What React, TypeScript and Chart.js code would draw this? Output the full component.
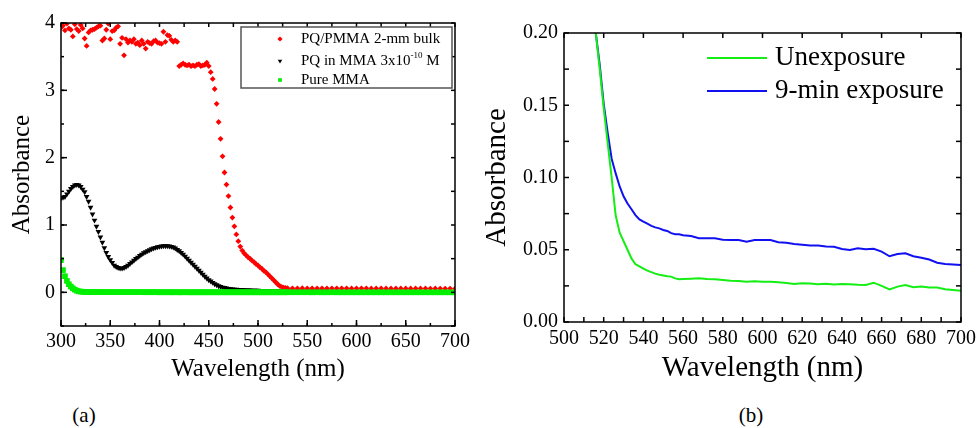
import React, { useEffect, useRef } from 'react';
import { Chart, registerables } from 'chart.js';
import { drawPoint } from 'chart.js/helpers';

Chart.register(...registerables);

const FONT = "'Liberation Serif', 'Times New Roman', Times, serif";
const BLACK = '#000000';

// ---------------- Panel (a) data ----------------
const wavelengthA = [
  300, 302, 304, 306, 308, 310, 312, 314, 316, 318,
  320, 322, 324, 326, 328, 330, 332, 334, 336, 338,
  340, 342, 344, 346, 348, 350, 352, 354, 356, 358,
  360, 362, 364, 366, 368, 370, 372, 374, 376, 378,
  380, 382, 384, 386, 388, 390, 392, 394, 396, 398,
  400, 402, 404, 406, 408, 410, 412, 414, 416, 418,
  420, 422, 424, 426, 428, 430, 432, 434, 436, 438,
  440, 442, 444, 446, 448, 450, 452, 454, 456, 458,
  460, 462, 464, 466, 468, 470, 472, 474, 476, 478,
  480, 482, 484, 486, 488, 490, 492, 494, 496, 498,
  500, 502, 504, 506, 508, 510, 512, 514, 516, 518,
  520, 522, 524, 526, 528, 530,
  535, 540, 545, 550, 555, 560, 565, 570, 575, 580,
  585, 590, 595, 600, 605, 610, 615, 620, 625, 630,
  635, 640, 645, 650, 655, 660, 665, 670, 675, 680,
  685, 690, 695, 700,
];

const bulkPMMA = [
  3.93, 3.96, 3.89, 3.99, 3.92, 3.90, 3.80, 3.98, 3.91, 3.88,
  3.97, 3.92, 3.77, 3.66, 3.86, 3.89, 3.90, 3.91, 3.93, 3.95,
  3.96, 3.74, 3.77, 3.90, 3.99, 3.76, 3.88, 3.89, 3.93, 3.95,
  3.69, 3.78, 3.52, 3.76, 3.71, 3.74, 3.72, 3.76, 3.69, 3.71,
  3.67, 3.74, 3.69, 3.62, 3.72, 3.70, 3.69, 3.73, 3.74, 3.71,
  3.70, 3.69, 3.87, 3.72, 3.82, 3.81, 3.75, 3.72, 3.74, 3.72,
  3.36, 3.38, 3.40, 3.38, 3.37, 3.38, 3.36, 3.37, 3.36, 3.38,
  3.39, 3.36, 3.37, 3.38, 3.41, 3.36, 3.27, 3.17, 3.02, 2.80,
  2.53, 2.28, 2.02, 1.78, 1.60, 1.43, 1.26, 1.11, 0.98, 0.86,
  0.76, 0.68, 0.62, 0.58, 0.55, 0.52, 0.50, 0.47, 0.45, 0.42,
  0.40, 0.37, 0.35, 0.32, 0.30, 0.27, 0.24, 0.21, 0.18, 0.15,
  0.12, 0.095, 0.08, 0.07, 0.065, 0.062,
  0.060, 0.060, 0.061, 0.060, 0.059, 0.060, 0.060, 0.059, 0.060, 0.059,
  0.060, 0.059, 0.058, 0.059, 0.060, 0.059, 0.058, 0.058, 0.059, 0.058,
  0.058, 0.057, 0.058, 0.058, 0.057, 0.057, 0.058, 0.057, 0.056, 0.057,
  0.056, 0.056, 0.056, 0.055,
];

const pqInMMA = [
  1.40, 1.41, 1.42, 1.46, 1.50, 1.54, 1.57, 1.59, 1.60, 1.59,
  1.57, 1.53, 1.49, 1.42, 1.35, 1.26, 1.16, 1.07, 0.98, 0.90,
  0.82, 0.74, 0.66, 0.59, 0.53, 0.48, 0.44, 0.40, 0.38, 0.365,
  0.357, 0.357, 0.365, 0.38, 0.40, 0.425, 0.45, 0.475, 0.50, 0.52,
  0.545, 0.565, 0.585, 0.60, 0.615, 0.63, 0.645, 0.655, 0.665, 0.675,
  0.68, 0.685, 0.69, 0.69, 0.69, 0.685, 0.68, 0.67, 0.655, 0.635,
  0.615, 0.59, 0.565, 0.535, 0.505, 0.475, 0.445, 0.415, 0.385, 0.355,
  0.325, 0.295, 0.265, 0.235, 0.21, 0.185, 0.165, 0.145, 0.125, 0.11,
  0.095, 0.085, 0.075, 0.068, 0.062, 0.056, 0.052, 0.048, 0.045, 0.042,
  0.040, 0.038, 0.036, 0.035, 0.033, 0.032, 0.031, 0.030, 0.029, 0.028,
  0.027, 0.026, 0.025, 0.025, 0.024, 0.023, 0.022, 0.022, 0.021, 0.021,
  0.020, 0.020, 0.019, 0.019, 0.018, 0.018,
  0.018, 0.017, 0.017, 0.017, 0.016, 0.016, 0.016, 0.016, 0.015, 0.015,
  0.015, 0.015, 0.015, 0.014, 0.014, 0.014, 0.014, 0.014, 0.014, 0.013,
  0.013, 0.013, 0.013, 0.013, 0.013, 0.013, 0.012, 0.012, 0.012, 0.012,
  0.012, 0.012, 0.012, 0.012,
];

const pureMMA = [
  0.48, 0.33, 0.24, 0.17, 0.12, 0.085, 0.06, 0.04, 0.025, 0.016,
  0.011, 0.008, 0.006, 0.005, 0.004, 0.004, 0.003, 0.003, 0.003, 0.003,
  0.003, 0.003, 0.002, 0.003, 0.002, 0.002, 0.003, 0.002, 0.002, 0.002,
  0.002, 0.002, 0.002, 0.002, 0.002, 0.002, 0.002, 0.002, 0.002, 0.002,
  0.002, 0.002, 0.002, 0.001, 0.002, 0.002, 0.001, 0.002, 0.002, 0.001,
  0.001, 0.002, 0.001, 0.001, 0.002, 0.001, 0.001, 0.001, 0.002, 0.001,
  0.001, 0.001, 0.001, 0.002, 0.001, 0.001, 0.001, 0.001, 0.001, 0.001,
  0.001, 0.001, 0.001, 0.001, 0.001, 0.001, 0.001, 0.001, 0.001, 0.001,
  0.001, 0.001, 0.001, 0.001, 0.001, 0.001, 0.001, 0.001, 0.001, 0.001,
  0.001, 0.001, 0.001, 0.001, 0.001, 0.001, 0.001, 0.001, 0.001, 0.001,
  0.001, 0.001, 0.001, 0.001, 0.001, 0.001, 0.001, 0.001, 0.001, 0.001,
  0.001, 0.001, 0.001, 0.001, 0.001, 0.001,
  0.001, 0.001, 0.001, 0.001, 0.000, 0.001, 0.000, 0.000, 0.001, 0.000,
  0.000, 0.000, 0.000, 0.000, 0.000, 0.000, 0.000, 0.000, 0.000, 0.000,
  0.000, 0.000, 0.000, 0.000, 0.000, 0.000, 0.000, 0.000, 0.000, 0.000,
  0.000, 0.000, 0.000, 0.000,
];

const seriesLabelsA = ['PQ/PMMA 2-mm bulk', 'PQ in MMA 3x10⁻¹⁰ M', 'Pure MMA'];

// ---------------- Panel (b) data ----------------
const wavelengthB = [
  510, 512, 514, 516, 518, 520, 522, 524, 526, 528,
  530, 532, 534, 536, 538, 540, 542, 544, 546, 548,
  550, 552, 554, 556, 558, 560,
  564, 568, 572, 576, 580, 584, 588, 592, 596, 600,
  604, 608, 612, 616, 620, 624, 628, 632, 636, 640,
  644, 648, 652, 656, 660, 664, 668, 672, 676, 680,
  684, 688, 692, 696, 700,
];

const unexposure = [
  0.29, 0.255, 0.225, 0.20, 0.175, 0.148, 0.124, 0.100, 0.074, 0.062,
  0.056, 0.050, 0.044, 0.040, 0.0385, 0.037, 0.0355, 0.0345, 0.0335, 0.0327,
  0.0322, 0.0316, 0.0314, 0.0302, 0.0296, 0.0298,
  0.0300, 0.0302, 0.0297, 0.0295, 0.0290, 0.0286, 0.0284, 0.0279, 0.0282, 0.0279,
  0.0278, 0.0275, 0.0270, 0.0263, 0.0268, 0.0267, 0.0262, 0.0264, 0.0260, 0.0263,
  0.0262, 0.0258, 0.0256, 0.0272, 0.0250, 0.0225, 0.0245, 0.0256, 0.0240, 0.0245,
  0.0238, 0.0238, 0.0226, 0.0221, 0.0217,
];

const exposure9min = [
  0.30, 0.26, 0.225, 0.20, 0.178, 0.151, 0.131, 0.113, 0.103, 0.094,
  0.087, 0.082, 0.078, 0.074, 0.071, 0.0695, 0.068, 0.0665, 0.0655, 0.0648,
  0.0637, 0.063, 0.0615, 0.0607, 0.0607, 0.060,
  0.0595, 0.058, 0.058, 0.058, 0.057, 0.0567, 0.0567, 0.0556, 0.0567, 0.0567,
  0.0567, 0.0552, 0.0548, 0.054, 0.0535, 0.053, 0.053, 0.0523, 0.052, 0.0505,
  0.0498, 0.051, 0.0503, 0.0507, 0.0487, 0.0455, 0.047, 0.0475, 0.0455, 0.0445,
  0.0432, 0.041, 0.0402, 0.0398, 0.0394,
];

const seriesLabelsB = ['Unexposure', '9-min exposure'];

// ---------------- helpers ----------------
const SUPER: Record<string, string> = { '⁻': '-', '¹': '1', '⁰': '0', '²': '2', '³': '3' };

function drawRichText(ctx: CanvasRenderingContext2D, text: string, x: number, y: number, size: number) {
  let cx = x;
  let i = 0;
  while (i < text.length) {
    const sup = SUPER[text[i]] !== undefined;
    let run = '';
    let j = i;
    while (j < text.length && (SUPER[text[j]] !== undefined) === sup) {
      run += sup ? SUPER[text[j]] : text[j];
      j++;
    }
    const s = sup ? Math.round(size * 0.62) : size;
    ctx.font = `${s}px ${FONT}`;
    ctx.fillText(run, cx, sup ? y - size * 0.36 : y);
    cx += ctx.measureText(run).width;
    i = j;
  }
}

// Frame around the plot area plus inward tick marks on all four sides.
const frameTicksPlugin = {
  id: 'frameTicks',
  afterDraw(chart: any, _args: any, opts: any) {
    const { ctx, chartArea: ca, scales } = chart;
    ctx.save();
    ctx.strokeStyle = BLACK;
    ctx.lineWidth = 1.5;
    ctx.lineCap = 'butt';
    (opts.sets || []).forEach((set: any) => {
      const scale = scales[set.axis];
      const first = Math.ceil(scale.min / set.step - 1e-9);
      const last = Math.floor(scale.max / set.step + 1e-9);
      for (let k = first; k <= last; k++) {
        const p = scale.getPixelForValue(k * set.step);
        ctx.beginPath();
        if (set.side === 'bottom') { ctx.moveTo(p, ca.bottom); ctx.lineTo(p, ca.bottom - set.len); }
        else if (set.side === 'top') { ctx.moveTo(p, ca.top); ctx.lineTo(p, ca.top + set.len); }
        else if (set.side === 'left') { ctx.moveTo(ca.left, p); ctx.lineTo(ca.left + set.len, p); }
        else { ctx.moveTo(ca.right, p); ctx.lineTo(ca.right - set.len, p); }
        ctx.stroke();
      }
    });
    ctx.strokeRect(ca.left, ca.top, ca.right - ca.left, ca.bottom - ca.top);
    ctx.restore();
  },
};

const markerLegendPlugin = {
  id: 'markerLegend',
  afterDraw(chart: any, _args: any, opts: any) {
    const { ctx, chartArea } = chart;
    const bx = chartArea.left + opts.boxLeft;
    const by = chartArea.top + opts.boxTop;
    ctx.save();
    ctx.fillStyle = '#ffffff';
    ctx.fillRect(bx, by, opts.boxWidth, opts.boxHeight);
    ctx.strokeStyle = '#555555';
    ctx.lineWidth = 1.5;
    ctx.strokeRect(bx, by, opts.boxWidth, opts.boxHeight);
    ctx.textBaseline = 'middle';
    ctx.textAlign = 'left';
    chart.data.datasets.forEach((ds: any, i: number) => {
      const y = by + opts.rows[i];
      ctx.fillStyle = ds.backgroundColor;
      drawPoint(ctx, { pointStyle: ds.pointStyle, rotation: ds.pointRotation || 0, radius: opts.markerRadius, borderWidth: 0 } as any, bx + opts.markerX, y);
      ctx.fillStyle = BLACK;
      drawRichText(ctx, ds.label, bx + opts.textX, y, opts.fontSize);
    });
    ctx.restore();
  },
};

const lineLegendPlugin = {
  id: 'lineLegend',
  afterDraw(chart: any, _args: any, opts: any) {
    const { ctx, chartArea } = chart;
    ctx.save();
    ctx.textBaseline = 'middle';
    ctx.textAlign = 'left';
    chart.data.datasets.forEach((ds: any, i: number) => {
      const y = chartArea.top + opts.rows[i];
      ctx.strokeStyle = ds.borderColor;
      ctx.lineWidth = 2;
      ctx.beginPath();
      ctx.moveTo(chartArea.left + opts.lineX0, y);
      ctx.lineTo(chartArea.left + opts.lineX1, y);
      ctx.stroke();
      ctx.fillStyle = BLACK;
      ctx.font = `${opts.fontSize}px ${FONT}`;
      ctx.fillText(ds.label, chartArea.left + opts.textX, y);
    });
    ctx.restore();
  },
};

function toPoints(xs: number[], ys: number[]) {
  return xs.map((x, i) => ({ x, y: ys[i] }));
}

const noGrid = { display: false, drawOnChartArea: false, drawTicks: false };
const noBorder = { display: false };

export default function App() {
  const refA = useRef<HTMLCanvasElement | null>(null);
  const refB = useRef<HTMLCanvasElement | null>(null);

  useEffect(() => {
    const tickFont = { family: FONT, size: 20 };

    const chartA = new Chart(refA.current as HTMLCanvasElement, {
      type: 'scatter',
      data: {
        datasets: [
          {
            label: seriesLabelsA[0],
            data: toPoints(wavelengthA, bulkPMMA),
            backgroundColor: '#ff0000',
            pointStyle: 'rectRot',
            pointRadius: 2.9,
            pointBorderWidth: 0,
            order: 1,
          },
          {
            label: seriesLabelsA[1],
            data: toPoints(wavelengthA, pqInMMA),
            backgroundColor: '#000000',
            pointStyle: 'triangle',
            pointRotation: 180,
            pointRadius: 3.3,
            pointBorderWidth: 0,
            order: 2,
          },
          {
            label: seriesLabelsA[2],
            data: toPoints(wavelengthA, pureMMA),
            backgroundColor: '#00f000',
            pointStyle: 'rect',
            pointRadius: 4,
            pointBorderWidth: 0,
            order: 0,
          },
        ],
      } as any,
      options: {
        responsive: false,
        animation: false,
        devicePixelRatio: 1,
        events: [],
        layout: { padding: { left: 0, top: 23, right: 25, bottom: 0 } },
        plugins: {
          legend: { display: false },
          tooltip: { enabled: false },
          frameTicks: {
            sets: [
              { axis: 'x', side: 'bottom', step: 50, len: 6 },
              { axis: 'x', side: 'bottom', step: 25, len: 3 },
              { axis: 'x', side: 'top', step: 25, len: 4 },
              { axis: 'y', side: 'left', step: 1, len: 6 },
              { axis: 'y', side: 'left', step: 0.5, len: 3 },
              { axis: 'y', side: 'right', step: 0.5, len: 4 },
            ],
          },
          markerLegend: {
            boxLeft: 180, boxTop: 4, boxWidth: 211, boxHeight: 61,
            markerX: 39, textX: 60, rows: [12, 34, 53], markerRadius: 2.6, fontSize: 15,
          },
        } as any,
        scales: {
          x: {
            type: 'linear', position: 'bottom', min: 300, max: 700,
            ticks: {
              stepSize: 50, autoSkip: false, maxRotation: 0, minRotation: 0, padding: 3.5,
              color: BLACK, font: tickFont, callback: (v: any) => String(v),
            },
            grid: noGrid,
            border: noBorder,
            title: {
              display: true, text: 'Wavelength (nm)', color: BLACK,
              font: { family: FONT, size: 25 }, padding: { top: 0, bottom: 16 },
            },
            afterFit: (s: any) => { s.height = 74; s.paddingLeft = 0; s.paddingRight = 0; },
          },
          y: {
            type: 'linear', position: 'left', min: -0.5, max: 4,
            ticks: {
              stepSize: 1, autoSkip: false, padding: 6, color: BLACK, font: tickFont,
              callback: (v: any) => (v >= 0 ? String(v) : ''),
            },
            grid: noGrid,
            border: noBorder,
            title: {
              display: true, text: 'Absorbance', color: BLACK,
              font: { family: FONT, size: 25 }, padding: { top: 7, bottom: 0 },
            },
            afterFit: (s: any) => { s.width = 61; s.paddingTop = 0; s.paddingBottom = 0; },
          },
        } as any,
      },
      plugins: [frameTicksPlugin, markerLegendPlugin],
    } as any);

    const chartB = new Chart(refB.current as HTMLCanvasElement, {
      type: 'scatter',
      data: {
        datasets: [
          {
            label: seriesLabelsB[0],
            data: toPoints(wavelengthB, unexposure),
            borderColor: '#14ee14',
            backgroundColor: '#14ee14',
            showLine: true,
            borderWidth: 2,
            pointRadius: 0,
          },
          {
            label: seriesLabelsB[1],
            data: toPoints(wavelengthB, exposure9min),
            borderColor: '#1010f0',
            backgroundColor: '#1010f0',
            showLine: true,
            borderWidth: 2,
            pointRadius: 0,
          },
        ],
      } as any,
      options: {
        responsive: false,
        animation: false,
        devicePixelRatio: 1,
        events: [],
        layout: { padding: { left: 0, top: 33, right: 16, bottom: 0 } },
        plugins: {
          legend: { display: false },
          tooltip: { enabled: false },
          frameTicks: {
            sets: [
              { axis: 'x', side: 'bottom', step: 10, len: 5 },
              { axis: 'x', side: 'top', step: 20, len: 5 },
              { axis: 'y', side: 'left', step: 0.025, len: 5 },
              { axis: 'y', side: 'right', step: 0.025, len: 5 },
            ],
          },
          lineLegend: { lineX0: 143, lineX1: 203, textX: 211, rows: [25, 58], fontSize: 27 },
        } as any,
        scales: {
          x: {
            type: 'linear', position: 'bottom', min: 500, max: 700,
            ticks: {
              stepSize: 20, autoSkip: false, maxRotation: 0, minRotation: 0, padding: 4.3,
              color: BLACK, font: tickFont, callback: (v: any) => String(v),
            },
            grid: noGrid,
            border: noBorder,
            title: {
              display: true, text: 'Wavelength (nm)', color: BLACK,
              font: { family: FONT, size: 29 }, padding: { top: 0, bottom: 14 },
            },
            afterFit: (s: any) => { s.height = 78; s.paddingLeft = 0; s.paddingRight = 0; },
          },
          y: {
            type: 'linear', position: 'left', min: 0, max: 0.2,
            ticks: {
              stepSize: 0.05, autoSkip: false, padding: 6, color: BLACK, font: tickFont,
              callback: (v: any) => Number(v).toFixed(2),
            },
            grid: noGrid,
            border: noBorder,
            title: {
              display: true, text: 'Absorbance', color: BLACK,
              font: { family: FONT, size: 29 }, padding: { top: 0, bottom: 0 },
            },
            afterFit: (s: any) => { s.width = 84; s.paddingTop = 0; s.paddingBottom = 0; },
          },
        } as any,
      },
      plugins: [frameTicksPlugin, lineLegendPlugin],
    } as any);

    return () => {
      chartA.destroy();
      chartB.destroy();
    };
  }, []);

  const captionStyle: React.CSSProperties = {
    position: 'absolute',
    width: 40,
    textAlign: 'center',
    fontFamily: FONT,
    fontSize: 21,
    lineHeight: '21px',
    color: BLACK,
  };

  return (
    <div style={{ position: 'fixed', left: 0, top: 0, width: 977, height: 428, background: '#ffffff', overflow: 'hidden' }}>
      <canvas ref={refA} width={480} height={400} style={{ position: 'absolute', left: 0, top: 0, display: 'block' }} />
      <canvas ref={refB} width={497} height={400} style={{ position: 'absolute', left: 480, top: 0, display: 'block' }} />
      <div style={{ ...captionStyle, left: 64, top: 405 }}>(a)</div>
      <div style={{ ...captionStyle, left: 731, top: 405 }}>(b)</div>
    </div>
  );
}
